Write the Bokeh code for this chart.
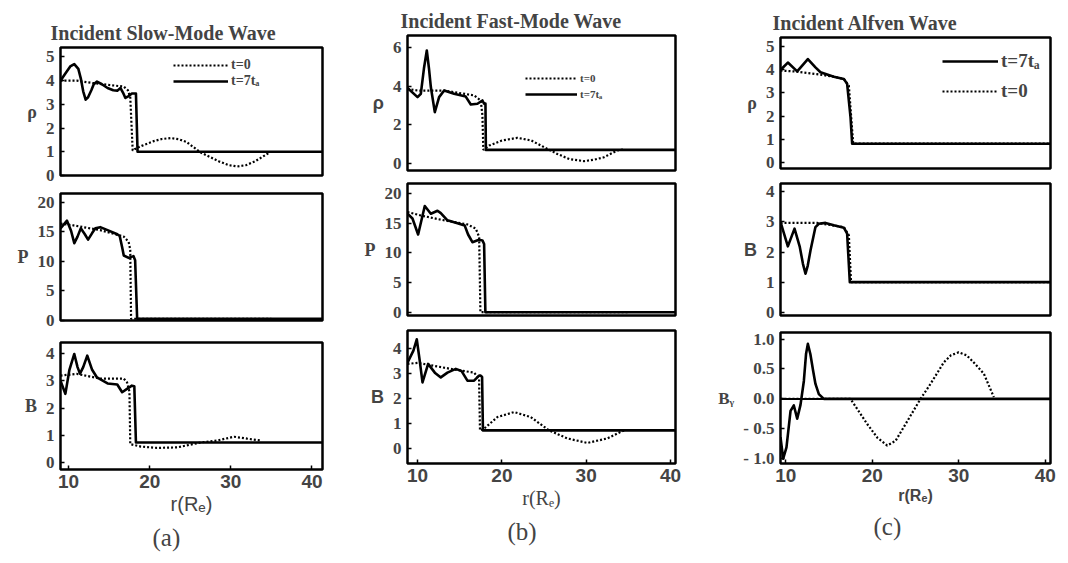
from bokeh.plotting import figure
from bokeh.layouts import row, column
from bokeh.models import Range1d, FixedTicker, Legend, LegendItem, Title
from bokeh.embed import file_html
from bokeh.resources import INLINE

# ---------------- data (r in Earth radii) ----------------
# (a) Incident slow-mode wave
slow_rho_r7 = [9.0, 9.6, 10.2, 10.7, 11.2, 11.5, 11.8, 12.1, 12.4, 12.8, 13.1, 13.5, 14.1, 14.8, 15.5, 16.0, 16.4, 16.7, 17.0, 17.4, 17.8, 18.3, 18.5, 41.3]
slow_rho_v7 = [4.0, 4.3, 4.6, 4.7, 4.5, 4.1, 3.55, 3.2, 3.3, 3.6, 3.85, 3.96, 3.85, 3.69, 3.6, 3.58, 3.69, 3.5, 3.27, 3.35, 3.46, 3.46, 1.0, 1.0]
slow_rho_r0 = [9.0, 11.0, 13.0, 15.0, 16.8, 17.3, 17.6, 17.9, 18.2, 19.0, 20.5, 21.5, 22.6, 23.6, 24.5, 26.3, 28.5, 29.7, 30.8, 31.9, 33.0, 34.9]
slow_rho_v0 = [4.0, 4.0, 3.9, 3.82, 3.75, 3.6, 3.3, 1.05, 1.12, 1.25, 1.45, 1.54, 1.58, 1.53, 1.42, 0.97, 0.6, 0.44, 0.38, 0.44, 0.6, 1.0]

slow_p_r7 = [9.0, 9.8, 10.3, 10.7, 11.1, 11.5, 12.0, 12.4, 12.9, 13.3, 13.9, 14.8, 16.0, 16.3, 16.6, 16.8, 17.4, 18.0, 18.2, 18.45, 41.3]
slow_p_v7 = [15.6, 16.9, 15.2, 13.1, 14.2, 15.6, 14.6, 13.7, 14.8, 15.6, 15.8, 15.3, 14.6, 14.3, 12.4, 11.0, 10.6, 10.9, 10.2, 0.3, 0.3]
slow_p_r0 = [9.0, 10.6, 13.9, 16.8, 17.4, 17.6, 17.7, 25.6, 35.0]
slow_p_v0 = [16.4, 16.1, 15.3, 14.2, 13.3, 12.0, 0.3, 0.3, 0.3]

slow_b_r7 = [9.0, 9.6, 10.1, 10.7, 11.1, 11.4, 11.8, 12.3, 12.9, 13.5, 14.8, 16.0, 16.6, 17.2, 17.8, 18.1, 18.3, 41.3]
slow_b_v7 = [3.0, 2.52, 3.4, 3.98, 3.5, 3.26, 3.5, 3.92, 3.4, 3.12, 2.9, 2.86, 2.58, 2.7, 2.82, 2.8, 0.74, 0.74]
slow_b_r0 = [9.0, 11.0, 13.9, 16.8, 17.2, 17.5, 17.6, 18.9, 20.9, 23.4, 26.3, 28.3, 30.4, 32.0, 33.7]
slow_b_v0 = [3.19, 3.25, 3.08, 3.08, 2.94, 2.6, 0.68, 0.59, 0.54, 0.56, 0.74, 0.81, 0.95, 0.88, 0.81]

# (b) Incident fast-mode wave
fast_rho_r7 = [8.8, 9.99, 10.38, 10.75, 11.09, 11.35, 11.57, 12.04, 12.55, 13.15, 14.33, 15.71, 16.31, 17.1, 17.69, 17.89, 18.05, 18.1, 40.6]
fast_rho_v7 = [3.91, 3.43, 3.6, 4.9, 5.83, 4.9, 3.95, 2.66, 3.43, 3.77, 3.6, 3.46, 3.05, 3.09, 3.26, 3.09, 3.1, 0.72, 0.72]
fast_rho_r0 = [8.8, 9.99, 13.15, 16.7, 17.49, 17.69, 17.8, 18.48, 20.0, 21.84, 23.5, 25.0, 26.58, 28.0, 29.74, 31.0, 32.1, 33.7, 34.5]
fast_rho_v0 = [3.86, 3.77, 3.77, 3.52, 3.26, 2.5, 0.72, 0.94, 1.2, 1.34, 1.2, 0.86, 0.51, 0.25, 0.14, 0.22, 0.34, 0.69, 0.74]

fast_p_r7 = [8.8, 9.39, 10.06, 10.85, 11.57, 12.36, 12.75, 13.54, 14.73, 15.59, 15.99, 16.5, 17.29, 17.69, 17.89, 18.04, 40.6]
fast_p_v7 = [16.6, 15.8, 13.1, 17.9, 16.6, 17.1, 16.7, 15.5, 15.0, 14.6, 13.1, 11.8, 12.2, 12.1, 11.5, 0.0, 0.0]
fast_p_r0 = [8.8, 10.38, 12.75, 15.9, 16.9, 17.3, 17.45, 35.0]
fast_p_v0 = [16.9, 16.3, 15.6, 14.8, 14.1, 12.7, 0.0, 0.0]

fast_b_r7 = [8.8, 9.5, 9.9, 10.25, 10.58, 11.25, 12.04, 12.75, 13.54, 14.53, 15.2, 15.91, 16.7, 17.29, 17.49, 17.65, 17.75, 40.6]
fast_b_v7 = [3.42, 3.9, 4.35, 3.5, 2.63, 3.37, 3.02, 2.83, 3.02, 3.17, 3.09, 2.7, 2.7, 2.9, 2.9, 2.85, 0.72, 0.72]
fast_b_r0 = [8.8, 9.99, 13.94, 16.7, 17.29, 17.4, 17.89, 19.47, 21.45, 23.42, 25.6, 27.77, 30.14, 32.51, 34.09, 34.5]
fast_b_v0 = [3.37, 3.41, 3.17, 3.02, 2.78, 0.72, 0.79, 1.25, 1.45, 1.25, 0.72, 0.4, 0.22, 0.4, 0.66, 0.72]

# (c) Incident Alfven wave
alf_rho_r7 = [9.4, 10.25, 11.33, 12.56, 13.44, 14.02, 15.56, 16.72, 17.1, 17.49, 17.68, 40.6]
alf_rho_v7 = [3.99, 4.31, 3.93, 4.46, 4.1, 3.89, 3.7, 3.6, 3.39, 1.96, 0.81, 0.81]
alf_rho_r0 = [9.4, 10.94, 13.6, 15.56, 16.72, 17.3, 17.8, 40.6]
alf_rho_v0 = [3.96, 3.93, 3.81, 3.7, 3.6, 3.31, 0.81, 0.81]

alf_b_r7 = [9.4, 10.25, 11.02, 11.63, 12.0, 12.29, 12.55, 12.87, 13.44, 13.83, 14.6, 15.56, 16.72, 17.1, 17.41, 40.6]
alf_b_v7 = [3.0, 2.19, 2.78, 2.17, 1.6, 1.28, 1.55, 2.06, 2.83, 2.94, 2.97, 2.89, 2.81, 2.61, 1.0, 1.0]
alf_b_r0 = [9.4, 13.6, 16.72, 17.3, 17.55, 40.6]
alf_b_v0 = [2.97, 2.97, 2.83, 2.56, 1.0, 1.0]

alf_by_r7 = [9.4, 9.71, 10.09, 10.56, 10.94, 11.33, 11.71, 12.1, 12.35, 12.56, 12.85, 13.17, 13.44, 13.83, 14.41, 40.6]
alf_by_v7 = [-0.64, -1.0, -0.81, -0.2, -0.11, -0.33, -0.1, 0.3, 0.75, 0.92, 0.75, 0.47, 0.25, 0.08, 0.0, 0.0]
alf_by_r0 = [9.4, 17.49, 19.42, 20.6, 21.73, 22.7, 23.65, 25.58, 26.73, 28.27, 29.1, 29.99, 30.9, 31.73, 32.9, 34.05]
alf_by_v0 = [0.0, 0.0, -0.42, -0.65, -0.78, -0.7, -0.47, 0.0, 0.25, 0.61, 0.73, 0.78, 0.73, 0.61, 0.42, 0.03]

x_ticks = [10, 20, 30, 40]
titles = ["Incident Slow-Mode Wave", "Incident Fast-Mode Wave", "Incident Alfven Wave"]
captions = ["(a)", "(b)", "(c)"]
x_label = "r(Rₑ)"
lbl_t0 = "t=0"
lbl_t7 = "t=7tₐ"

SERIF = "Liberation Serif"
SANS = "Liberation Sans"


def panel(w, h, bl, br, bt, bb, xr, yr, yticks, ylabel, r7, v7, r0, v0,
          ylabel_font=SERIF, overrides=None, bottom=False):
    p = figure(width=w, height=h, x_range=Range1d(*xr), y_range=Range1d(*yr),
               output_backend="svg", toolbar_location=None,
               min_border_left=bl, min_border_right=br,
               min_border_top=bt, min_border_bottom=bb)
    p.grid.visible = False
    p.outline_line_color = "black"
    p.outline_line_width = 2.5
    p.background_fill_color = "white"
    p.border_fill_color = "white"

    ya = p.yaxis[0]
    ya.ticker = FixedTicker(ticks=yticks)
    ya.axis_line_color = None
    ya.major_tick_in = 4
    ya.major_tick_out = 0
    ya.major_tick_line_width = 1.5
    ya.minor_tick_line_color = None
    ya.major_label_text_font = SERIF
    ya.major_label_text_font_style = "bold"
    ya.major_label_text_font_size = "17px"
    ya.major_label_standoff = 6
    ya.axis_label = ylabel
    ya.axis_label_orientation = "horizontal"
    ya.axis_label_text_font = ylabel_font
    ya.axis_label_text_font_style = "bold"
    ya.axis_label_text_font_size = "18px"
    ya.axis_label_standoff = 6
    if overrides:
        ya.major_label_overrides = overrides

    xa = p.xaxis[0]
    xa.ticker = FixedTicker(ticks=x_ticks)
    xa.axis_line_color = None
    xa.major_tick_in = 4
    xa.major_tick_out = 0
    xa.major_tick_line_width = 1.5
    xa.minor_tick_line_color = None
    if not bottom:
        xa.visible = False
    else:
        xa.major_label_text_font = SANS
        xa.major_label_text_font_style = "bold"
        xa.major_label_text_font_size = "19px"
        xa.major_label_standoff = 5
        xa.axis_label = x_label
        xa.axis_label_standoff = 2

    rd = p.line(r0, v0, line_color="black", line_width=2.2, line_dash="2 2")
    rs = p.line(r7, v7, line_color="black", line_width=2.6, line_join="round")
    return p, rs, rd


def add_title(p, text, offset):
    p.title.text = text
    p.title.text_font = SERIF
    p.title.text_font_style = "bold"
    p.title.text_font_size = "20px"
    p.title.align = "left"
    p.title.offset = offset
    p.title.standoff = 8


def add_caption(p, text, offset):
    p.add_layout(Title(text=text, align="left", offset=offset,
                       text_font=SERIF, text_font_style="normal",
                       text_font_size="25px", standoff=8), "below")


def add_legend(p, items, loc, fs, gw, gh, spacing):
    lg = Legend(items=items, location=loc, border_line_color=None,
                background_fill_alpha=0, glyph_width=gw, glyph_height=gh,
                label_text_font=SERIF, label_text_font_style="bold",
                label_text_font_size=fs, padding=0, margin=0,
                spacing=spacing, label_standoff=3, label_height=gh)
    p.add_layout(lg)


# ---------------- column (a) ----------------
xa_r = (9.0, 41.3)
a1, a1s, a1d = panel(340, 184, 60, 18, 47, 9, xa_r, (0, 5.4), [0, 1, 2, 3, 4, 5], "ρ",
                     slow_rho_r7, slow_rho_v7, slow_rho_r0, slow_rho_v0)
add_title(a1, titles[0], -10)
add_legend(a1, [LegendItem(label=lbl_t0, renderers=[a1d]),
                LegendItem(label=lbl_t7, renderers=[a1s])], (113, 86), "14px", 55, 14, 0)
a2, _, _ = panel(340, 147, 60, 18, 9, 11, xa_r, (0, 21.5), [0, 5, 10, 15, 20], "P",
                 slow_p_r7, slow_p_v7, slow_p_r0, slow_p_v0)
a3, _, _ = panel(340, 224, 60, 18, 11, 86, xa_r, (-0.25, 4.4), [0, 1, 2, 3, 4], "B",
                 slow_b_r7, slow_b_v7, slow_b_r0, slow_b_v0, bottom=True)
a3.xaxis[0].axis_label_text_font = SANS
a3.xaxis[0].axis_label_text_font_style = "normal"
a3.xaxis[0].axis_label_text_font_size = "20px"
add_caption(a3, captions[0], 92)

# ---------------- column (b) ----------------
xb_r = (8.8, 40.6)
b1, b1s, b1d = panel(360, 177, 67, 25, 35, 7, xb_r, (-0.34, 6.6), [0, 2, 4, 6], "ρ",
                     fast_rho_r7, fast_rho_v7, fast_rho_r0, fast_rho_v0, ylabel_font=SANS)
add_title(b1, titles[1], -7)
add_legend(b1, [LegendItem(label=lbl_t0, renderers=[b1d]),
                LegendItem(label=lbl_t7, renderers=[b1s])], (118, 70), "11px", 52, 12, 4)
b2, _, _ = panel(360, 145, 67, 25, 6, 7, xb_r, (-0.56, 21.7), [0, 5, 10, 15, 20], "P",
                 fast_p_r7, fast_p_v7, fast_p_r0, fast_p_v0)
b3, _, _ = panel(360, 233, 67, 25, 8, 92, xb_r, (-0.6, 4.7), [0, 1, 2, 3, 4], "B",
                 fast_b_r7, fast_b_v7, fast_b_r0, fast_b_v0, ylabel_font=SANS, bottom=True)
b3.xaxis[0].axis_label_text_font = SERIF
b3.xaxis[0].axis_label_text_font_style = "normal"
b3.xaxis[0].axis_label_text_font_size = "20px"
add_caption(b3, captions[1], 100)

# ---------------- column (c) ----------------
xc_r = (9.4, 40.6)
c1, c1s, c1d = panel(368, 176, 80, 18, 37, 8, xc_r, (-0.26, 5.39), [0, 1, 2, 3, 4, 5], "ρ",
                     alf_rho_r7, alf_rho_v7, alf_rho_r0, alf_rho_v0)
add_title(c1, titles[2], -8)
add_legend(c1, [LegendItem(label=lbl_t7, renderers=[c1s]),
                LegendItem(label=lbl_t0, renderers=[c1d])], (162, 66), "19px", 56, 20, 8)
c2, _, _ = panel(368, 148, 80, 18, 7, 9, xc_r, (-0.11, 4.28), [0, 1, 2, 3, 4], "B",
                 alf_b_r7, alf_b_v7, alf_b_r0, alf_b_v0, ylabel_font=SANS)
c3, _, _ = panel(368, 231, 80, 18, 8, 92, xc_r, (-1.08, 1.11), [-1, -0.5, 0, 0.5, 1], "Bᵧ",
                 alf_by_r7, alf_by_v7, alf_by_r0, alf_by_v0,
                 overrides={-1: "- 1.0", -0.5: "- 0.5", 0: "0.0", 0.5: "0.5", 1: "1.0"},
                 bottom=True)
c3.yaxis[0].axis_label_text_font_size = "17px"
c3.line([9.4, 40.6], [0, 0], line_color="black", line_width=2)
c3.xaxis[0].axis_label_text_font = SANS
c3.xaxis[0].axis_label_text_font_style = "bold"
c3.xaxis[0].axis_label_text_font_size = "16px"
add_caption(c3, captions[2], 93)

layout = row(column(a1, a2, a3, spacing=0),
             column(b1, b2, b3, spacing=0),
             column(c1, c2, c3, spacing=0), spacing=0)

open("out.html", "w").write(file_html(layout, INLINE, title="MHD wave panels"))
